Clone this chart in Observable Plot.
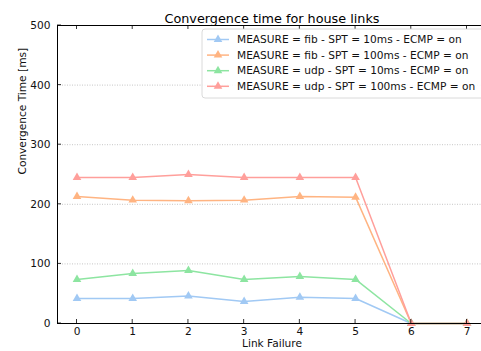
<!DOCTYPE html>
<html><head><meta charset="utf-8">
<script src="https://cdn.jsdelivr.net/npm/d3@7"></script>
<script src="https://cdn.jsdelivr.net/npm/@observablehq/plot@0.6"></script>
<style>body{margin:0;background:#fff} svg{font-family:"DejaVu Sans",sans-serif}</style>
</head><body><div id="chart"></div><script>
const linkFailures = [0, 1, 2, 3, 4, 5, 6, 7];
const seriesNames = [
  "MEASURE = fib - SPT = 10ms - ECMP = on",
  "MEASURE = fib - SPT = 100ms - ECMP = on",
  "MEASURE = udp - SPT = 10ms - ECMP = on",
  "MEASURE = udp - SPT = 100ms - ECMP = on"
];
const seriesColors = ["#a1c9f4", "#ffb482", "#8de5a1", "#ff9f9b"];
const fibSpt10 = [42, 42, 46, 37, 44, 42, 0, 0];
const fibSpt100 = [213, 207, 206, 207, 213, 212, 0, 0];
const udpSpt10 = [74, 84, 89, 74, 79, 74, 0, 0];
const udpSpt100 = [245, 245, 250, 245, 245, 245, 0, 0];
const yTicks = [0, 100, 200, 300, 400, 500];
const gridTicks = [100, 200, 300, 400];
const titleText = "Convergence time for house links";
const xLabel = "Link Failure";
const yLabel = "Convergence Time [ms]";

const allSeries = [fibSpt10, fibSpt100, udpSpt10, udpSpt100];
const rows = allSeries.flatMap((vals, s) => vals.map((v, i) => ({x: linkFailures[i], y: v, series: seriesNames[s]})));

const chart = Plot.plot({
  width: 481, height: 351,
  marginLeft: 57, marginTop: 25, marginBottom: 28, marginRight: -5,
  style: {fontFamily: "DejaVu Sans, sans-serif", fontSize: "10.6px", color: "#000", background: "#fff"},
  x: {domain: [-0.35, 7.35]},
  y: {domain: [0, 500]},
  color: {domain: seriesNames, range: seriesColors},
  marks: [
    Plot.ruleY(gridTicks, {stroke: "#b8b8b8", strokeWidth: 0.8, strokeDasharray: "1,1.5"}),
    Plot.line(rows, {x: "x", y: "y", z: "series", stroke: "series", strokeWidth: 1.5}),
    Plot.dot(rows, {x: "x", y: "y", fill: "series", symbol: "triangle", r: 3.2, stroke: null}),
    Plot.frame({stroke: "#000", strokeWidth: 1}),
    Plot.axisX(linkFailures, {tickSize: 0, tickPadding: 4, label: null, fontSize: 10.6, fill: "#111"}),
    Plot.axisY(yTicks, {tickSize: 0, tickPadding: 7, label: null, fontSize: 10.6, fill: "#111"}),
    Plot.text([titleText], {frameAnchor: "top", dy: -12, fontSize: 12.8, fill: "#000"}),
    Plot.text([xLabel], {frameAnchor: "bottom", dy: 23, fontSize: 10.6, fill: "#111"}),
    Plot.text([yLabel], {frameAnchor: "left", dx: -35, rotate: -90, fontSize: 10.6, fill: "#111"})
  ]
});
document.getElementById("chart").appendChild(chart);

// inward ticks using the chart's scales
const sx = chart.scale("x"), sy = chart.scale("y");
const svg = d3.select(chart);
const [yBottom, yTop] = [sy.apply(0), sy.apply(500)];
const xLeft = sx.apply(-0.35), xRight = sx.apply(7.35);
const tg = svg.append("g").attr("stroke", "#000").attr("stroke-width", 0.8);
linkFailures.forEach(v => {
  const px = sx.apply(v);
  tg.append("line").attr("x1", px).attr("x2", px).attr("y1", yBottom).attr("y2", yBottom - 4);
  tg.append("line").attr("x1", px).attr("x2", px).attr("y1", yTop).attr("y2", yTop + 4);
});
yTicks.forEach(v => {
  const py = sy.apply(v);
  tg.append("line").attr("x1", xLeft).attr("x2", xLeft + 4).attr("y1", py).attr("y2", py);
  tg.append("line").attr("x1", xRight).attr("x2", xRight - 4).attr("y1", py).attr("y2", py);
});

// legend
const lg = svg.append("g").attr("transform", `translate(${xLeft + 145},${yTop + 4})`);
lg.append("rect").attr("x", 0).attr("y", 0).attr("width", 290).attr("height", 69).attr("rx", 3)
  .attr("fill", "#fff").attr("fill-opacity", 0.85).attr("stroke", "#d0d0d0").attr("stroke-width", 0.8);
seriesNames.forEach((name, i) => {
  const cy = 10.5 + i * 15.6;
  lg.append("line").attr("x1", 5).attr("x2", 27).attr("y1", cy).attr("y2", cy)
    .attr("stroke", seriesColors[i]).attr("stroke-width", 1.5);
  lg.append("path").attr("d", d3.symbol(d3.symbolTriangle, Math.PI * 3.2 * 3.2)()).attr("transform", `translate(16,${cy})`)
    .attr("fill", seriesColors[i]);
  lg.append("text").attr("x", 35).attr("y", cy).attr("dy", "0.35em").attr("text-anchor", "start")
    .attr("font-size", 10.6).attr("fill", "#111").text(name);
});
</script></body></html>
